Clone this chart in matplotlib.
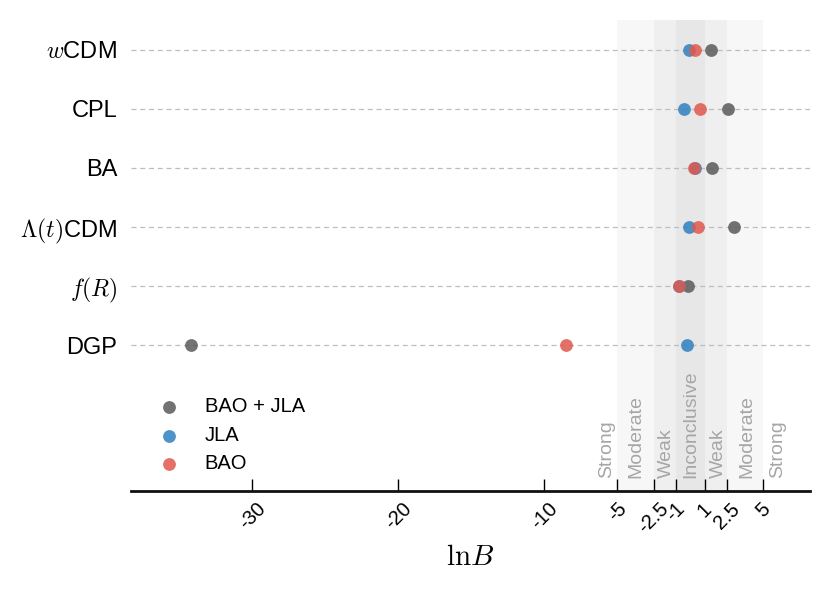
import matplotlib
matplotlib.use("Agg")
import matplotlib.pyplot as plt
import matplotlib.transforms as mtransforms

plt.rcParams['font.family'] = ['Liberation Sans', 'DejaVu Sans']
plt.rcParams['mathtext.fontset'] = 'cm'

models = [r'$w$CDM', 'CPL', 'BA', r'$\Lambda(t)$CDM', r'$f(R)$', 'DGP']
bao_jla = [1.4, 2.6, 1.5, 3.0, -0.15, -34.2]
jla = [-0.1, -0.4, 0.3, -0.1, -0.8, -0.25]
bao = [0.35, 0.7, 0.25, 0.55, -0.8, -8.5]
series_labels = ['BAO + JLA', 'JLA', 'BAO']
xticks = [-30, -20, -10, -5, -2.5, -1, 1, 2.5, 5]
xtick_labels = ['-30', '-20', '-10', '-5', '-2.5', '-1', '1', '2.5', '5']
band_labels = ['Strong', 'Moderate', 'Weak', 'Inconclusive', 'Weak', 'Moderate', 'Strong']
band_label_x = [-5.75, -3.7, -1.6, 0.05, 1.9, 3.9, 5.95]
band_edges = [5, 2.5, 1]

fig = plt.figure(figsize=(8.3, 5.93), dpi=100)
ax = fig.add_axes([131/830, 1 - 491/593, (810-131)/830, (491-20)/593])

for e in band_edges:
    ax.axvspan(-e, e, color='black', alpha=0.03, lw=0, zorder=0)

ypos = list(range(len(models)))
for y in ypos:
    ax.axhline(y, color='#bdbdbd', lw=0.9, ls=(0, (4, 3)), zorder=1)

colors = ['#5a5a5a', '#2f80c0', '#e0584d']
for vals, c, lab in zip([bao_jla, jla, bao], colors, series_labels):
    ax.scatter(vals, ypos, s=85, color=c, alpha=0.85, lw=0, zorder=3, label=lab)

trans = mtransforms.blended_transform_factory(ax.transData, ax.transAxes)
for x, t in zip(band_label_x, band_labels):
    ax.text(x, 0.027, t, rotation=90, ha='center', va='bottom', color='#a6a6a6',
            fontsize=14, transform=trans, zorder=2)

ax.set_xlim(-38.3, 8.2)
ax.set_ylim(7.47, -0.5)
ax.set_yticks(ypos)
ax.set_yticklabels(models, fontsize=17)
ax.tick_params(axis='y', length=0, pad=10)
ax.set_xticks(xticks)
ax.set_xticklabels(xtick_labels, rotation=45, fontsize=14.5)
ax.tick_params(axis='x', direction='in', length=9, width=1, color='black', pad=6)
for s in ['left', 'right', 'top']:
    ax.spines[s].set_visible(False)
ax.spines['bottom'].set_linewidth(2)
ax.spines['bottom'].set_color('#111111')
ax.set_facecolor('white')
ax.set_xlabel(r'$\mathrm{ln}B$', fontsize=21, labelpad=4)

leg = ax.legend(loc='upper left', bbox_to_anchor=(0.009, 0.2245), frameon=False, fontsize=14.5,
                handletextpad=0.75, labelspacing=0.47, scatterpoints=1, borderaxespad=0.2)

fig.savefig('out.png', dpi=100)
